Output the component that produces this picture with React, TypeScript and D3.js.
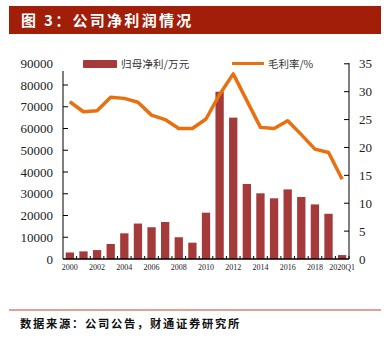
import React from "react";
import * as d3 from "d3";

const categories = ["2000","2001","2002","2003","2004","2005","2006","2007","2008","2009","2010","2011","2012","2013","2014","2015","2016","2017","2018","2019","2020Q1"];
const netProfit = [3000,3500,4100,6900,11800,16300,14600,17000,10000,7500,21300,76900,65000,34500,30200,27900,32000,28500,25100,20800,1800];
const grossMargin = [28.2,26.4,26.6,29.0,28.8,28.1,25.8,25.0,23.4,23.4,25.1,29.5,33.2,28.4,23.6,23.4,24.8,22.3,19.7,19.1,14.3];
const leftTicks = [0,10000,20000,30000,40000,50000,60000,70000,80000,90000];
const rightTicks = [0,5,10,15,20,25,30,35];
const xLabels = ["2000","2002","2004","2006","2008","2010","2012","2014","2016","2018","2020Q1"];

export default function App() {
  const W = 389, H = 339;
  const x0 = 63, x1 = 349, yBase = 259;
  const x = d3.scaleBand<string>().domain(categories).range([x0, x1]).paddingInner(0.39).paddingOuter(0.2);
  const xc = d3.scaleBand<string>().domain(categories).range([x0, x1]);
  const yL = d3.scaleLinear().domain([0, 90000]).range([yBase, 63.25]);
  const yR = d3.scaleLinear().domain([0, 35]).range([yBase, 63.8]);
  const line = d3.line<number>().x((_, i) => (xc(categories[i]) as number) + xc.bandwidth() / 2).y(d => yR(d));
  const serif = "'Liberation Serif', 'DejaVu Serif', serif";
  const cjk = "'Noto Sans CJK SC', sans-serif";
  return (
    <svg width={W} height={H} style={{ position: "absolute", left: 0, top: 0, background: "#fff" }}>
      <rect x={9} y={6} width={372} height={28} fill="#A11E08" />
      <text x={21} y={25.5} fill="#fff" fontFamily={cjk} fontWeight="bold" fontSize={15} letterSpacing={2.3}>图 3：公司净利润情况</text>
      {/* legend */}
      <rect x={83} y={60} width={34} height={8} fill="#A43A3A" rx={1} />
      <text x={121} y={68} fontFamily={cjk} fontSize={10.5} fill="#333" letterSpacing={0.2}>归母净利/万元</text>
      <line x1={232} x2={264} y1={63.5} y2={63.5} stroke="#E8700E" strokeWidth={3} />
      <text x={268} y={68} fontFamily={cjk} fontSize={10.5} fill="#333">毛利率/%</text>
      {/* bars */}
      {netProfit.map((v, i) => (
        <rect key={i} x={x(categories[i])} y={yL(v)} width={x.bandwidth()} height={yBase - yL(v)} fill="#A43A3A" />
      ))}
      <path d={line(grossMargin) || ""} fill="none" stroke="#E8700E" strokeWidth={3.5} strokeLinejoin="round" />
      {/* left axis */}
      <line x1={x0} x2={x0} y1={71} y2={yBase} stroke="#000" strokeWidth={1} />
      {leftTicks.map(t => (
        <g key={t}>
          {t > 0 && t < 90000 && <line x1={x0} x2={x0 + 5} y1={yL(t)} y2={yL(t)} stroke="#000" />}
          <text x={53} y={yL(t) + 4.5} textAnchor="end" fontFamily={serif} fontSize={13} fill="#222">{t}</text>
        </g>
      ))}
      {/* right axis */}
      <line x1={x1} x2={x1} y1={63} y2={yBase} stroke="#000" strokeWidth={1} />
      {rightTicks.map(t => (
        <g key={t}>
          {t > 0 && <line x1={x1} x2={x1 - 5} y1={yR(t)} y2={yR(t)} stroke="#000" />}
          <text x={359} y={yR(t) + 4.5} fontFamily={serif} fontSize={13} fill="#222">{t}</text>
        </g>
      ))}
      {/* x axis */}
      <line x1={x0} x2={x1} y1={yBase} y2={yBase} stroke="#000" strokeWidth={1.5} />
      {categories.map((c, i) => (
        <line key={c} x1={(xc(c) as number) + xc.bandwidth()} x2={(xc(c) as number) + xc.bandwidth()} y1={yBase} y2={yBase - 3} stroke="#000" />
      ))}
      {xLabels.map(c => (
        <text key={c} x={(xc(c) as number) + xc.bandwidth() / 2} y={270} textAnchor="middle" fontFamily={serif} fontSize={8} fill="#222">{c}</text>
      ))}
      {/* footer */}
      <line x1={9} x2={381} y1={310} y2={310} stroke="#C0472C" strokeWidth={1.2} />
      <text x={20} y={328} fontFamily={cjk} fontWeight="bold" fontSize={11.3} fill="#111" letterSpacing={1.7}>数据来源：公司公告，财通证券研究所</text>
    </svg>
  );
}
